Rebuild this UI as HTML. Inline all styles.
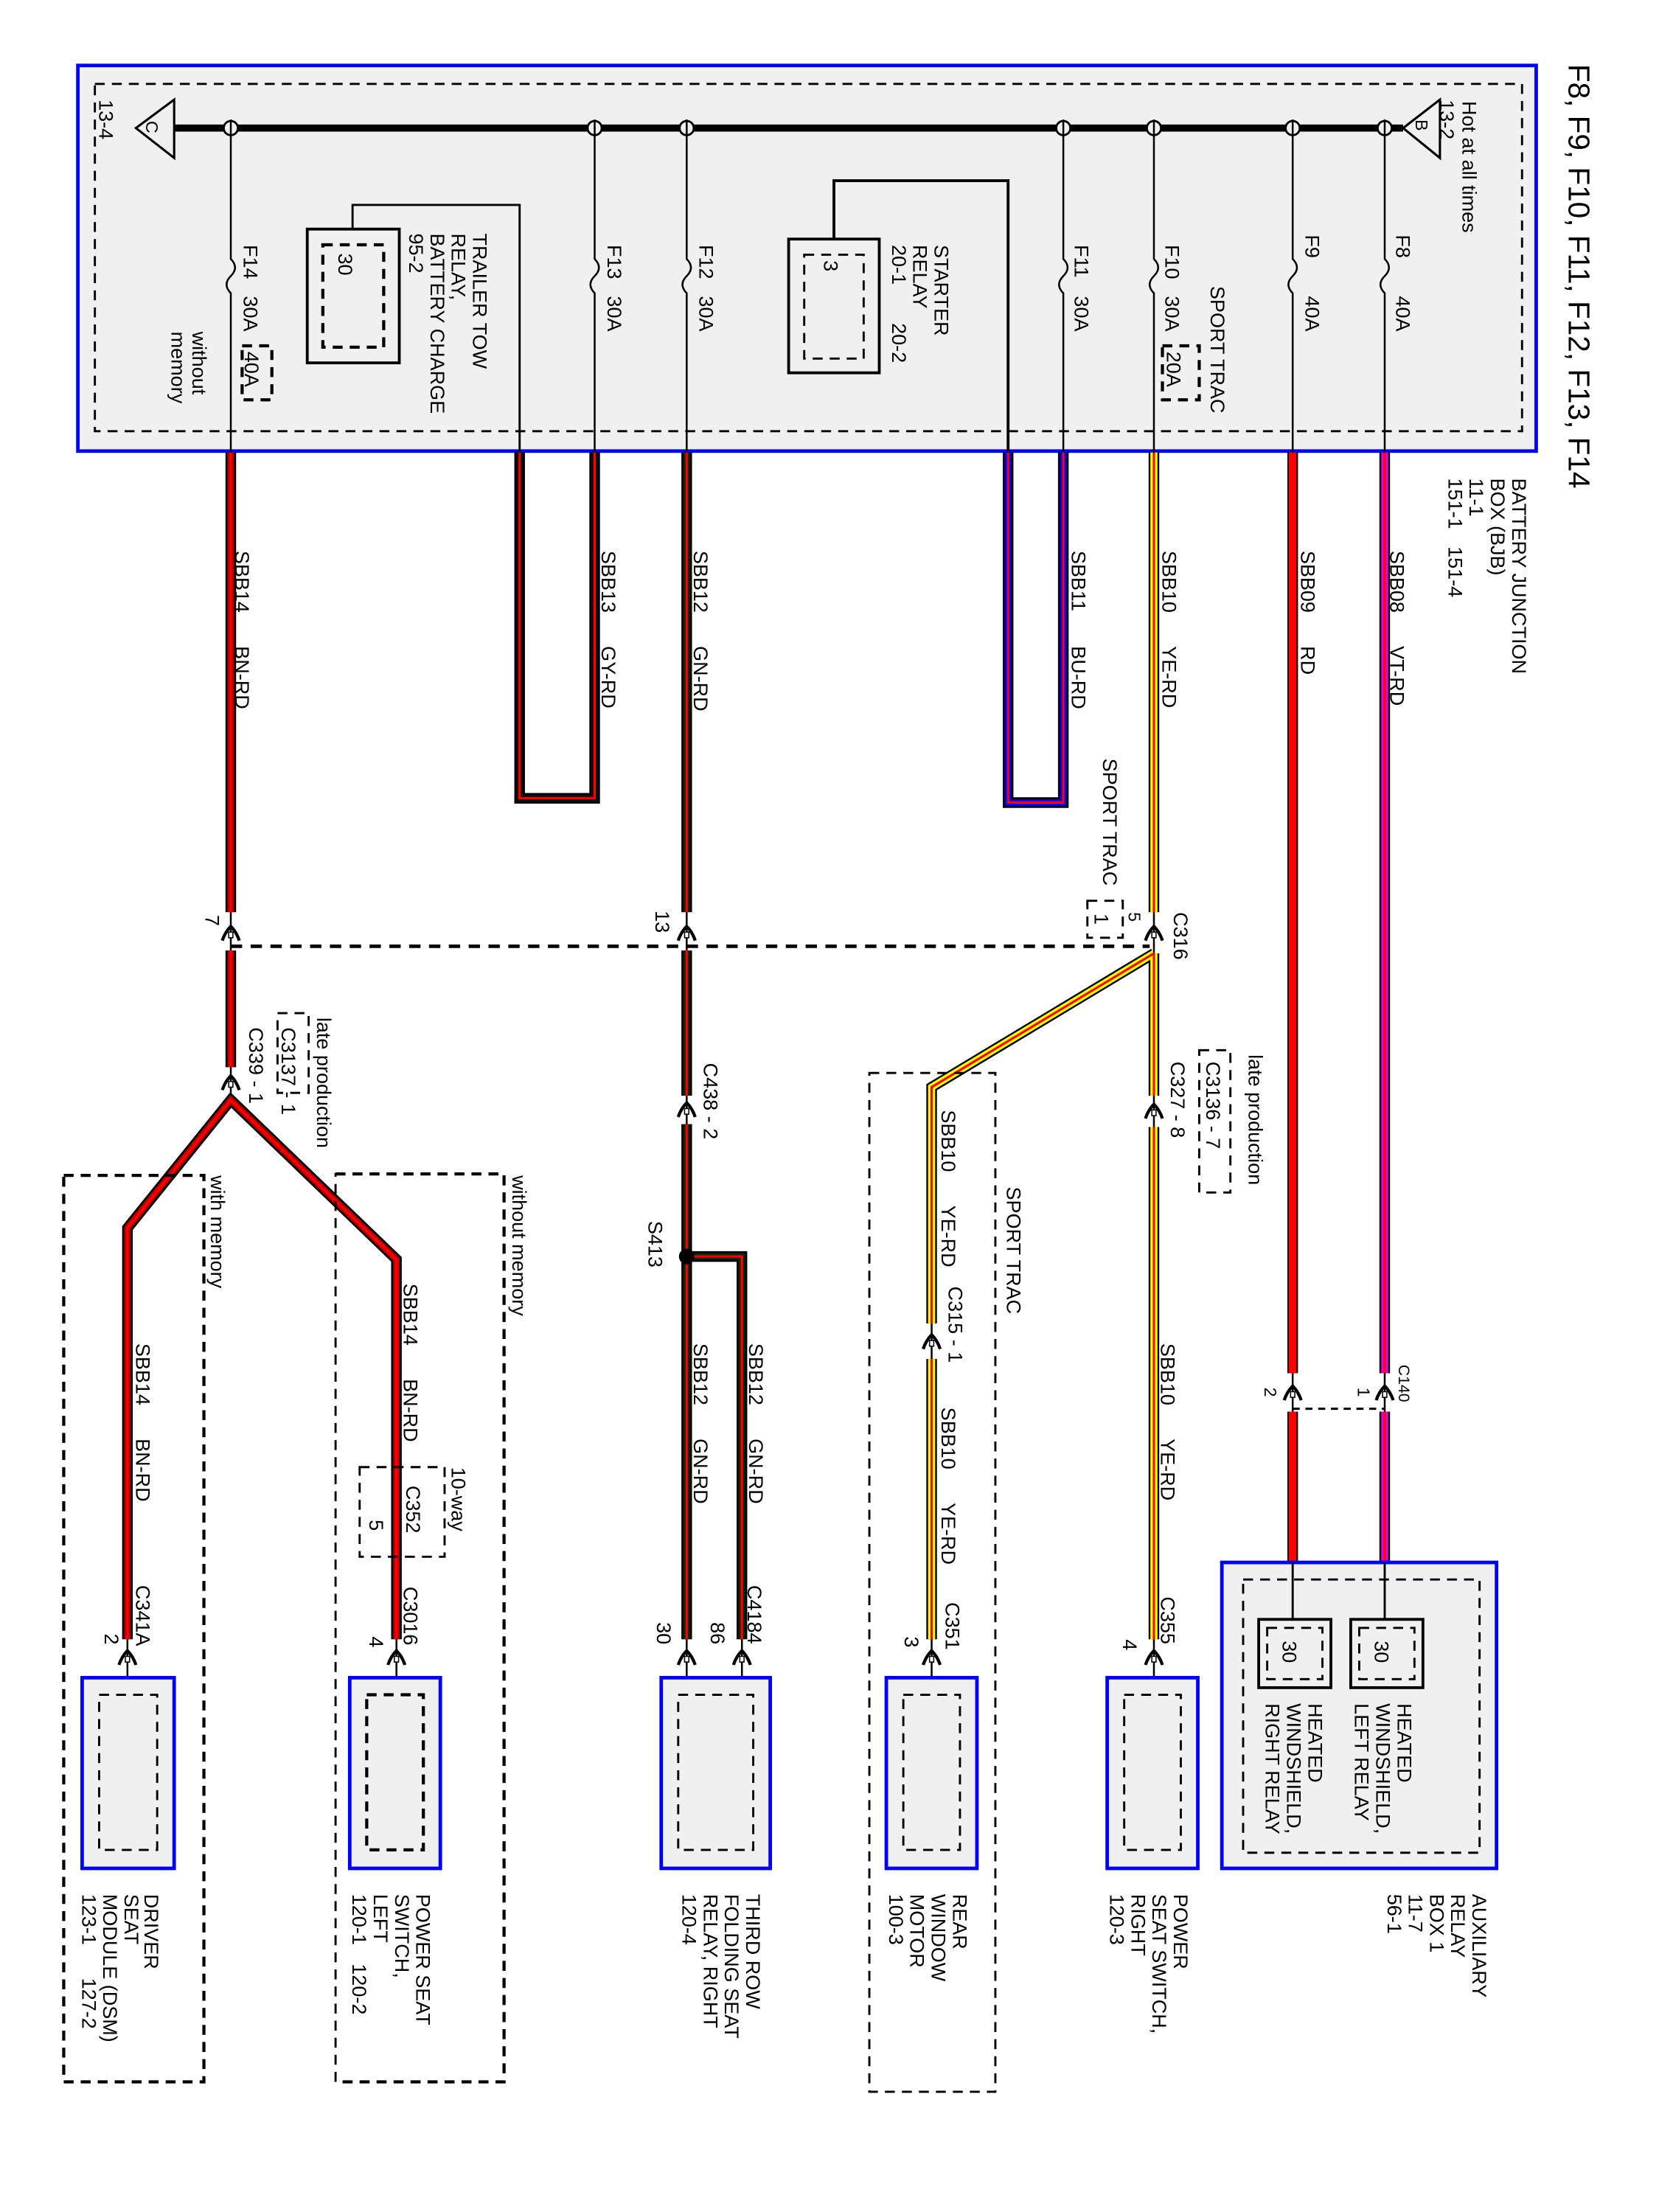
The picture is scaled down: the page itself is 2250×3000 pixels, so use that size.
<!DOCTYPE html>
<html><head><meta charset="utf-8"><style>
html,body{margin:0;padding:0;background:#fff}
svg{display:block}
text{font-family:"Liberation Sans",Arial,sans-serif;font-size:14px;fill:#000}
.o{fill:none;stroke:#000;stroke-width:7.5;stroke-linejoin:miter}
.tr{fill:none;stroke:#f00;stroke-width:1.6}
.th{fill:none;stroke:#000;stroke-width:1.3}
.ds{fill:none;stroke:#000;stroke-width:1.5;stroke-dasharray:7 5}
.dsb{fill:none;stroke:#000;stroke-width:2.2;stroke-dasharray:7 5}
.ch{fill:none;stroke:#000;stroke-width:2.2}
</style></head><body>
<svg xmlns="http://www.w3.org/2000/svg" xmlns:xlink="http://www.w3.org/1999/xlink" width="2250" height="3000" viewBox="0 0 1160 1546.7">
<defs>
<g id="chev"><path d="M-6,5 Q-4,-1 0,-5 Q4,-1 6,5" class="ch"/><rect x="-1.5" y="-1" width="3" height="4" fill="#fff" stroke="#000" stroke-width="0.8"/></g>
<path id="w14" d="M163 318V641M163 668V750M90 1152V863L163 773L280 885V1152"/>
<path id="w13" d="M367 318V561H420V318"/>
<path id="w12" d="M485 318V641M485 668V770M485 790V1152M485 883H524V1152"/>
<path id="w11" d="M712 318V564H751V318"/>
<path id="w10" d="M815 318V641M815 670V770M815 792V1152M815 670L658 764V930M658 955V1152"/>
<path id="w9" d="M913 318V965M913 992V1098"/>
<path id="w8" d="M978 318V965M978 992V1098"/>
</defs>
<rect width="1160" height="1547" fill="#fff"/>
<g transform="scale(0.99 0.995)">
<!-- BJB box -->
<rect x="55" y="46" width="1030" height="271" fill="#f0f0f0" stroke="#0000ff" stroke-width="2.5"/>
<rect x="67" y="59" width="1008" height="244" class="ds"/>
<line x1="123" y1="90" x2="991" y2="90" stroke="#000" stroke-width="5"/>
<path d="M123 70L96 90L123 111Z" fill="none" stroke="#000" stroke-width="1.6"/>
<path d="M991 90L1017 70L1017 111Z" fill="none" stroke="#000" stroke-width="1.6"/>
<text transform="translate(103 85) rotate(90)" style="font-size:12px">C</text>
<text transform="translate(1000 84) rotate(90)" style="font-size:12px">B</text>
<text transform="translate(70 70) rotate(90)">13-4</text>
<text transform="translate(1017 70) rotate(90)">13-2</text>
<text transform="translate(1033 71) rotate(90)">Hot at all times</text>
<!-- fuse drops -->
<g fill="none" stroke="#000" stroke-width="1.3">
<path d="M163 90V182q6 6 0 12q-6 6 0 12V318"/>
<path d="M420 90V182q6 6 0 12q-6 6 0 12V318"/>
<path d="M485 90V182q6 6 0 12q-6 6 0 12V318"/>
<path d="M751 90V182q6 6 0 12q-6 6 0 12V318"/>
<path d="M815 90V182q6 6 0 12q-6 6 0 12V318"/>
<path d="M913 90V182q6 6 0 12q-6 6 0 12V318"/>
<path d="M978 90V182q6 6 0 12q-6 6 0 12V318"/>
</g>
<g fill="#f0f0f0" stroke="#000" stroke-width="1.5">
<circle cx="163" cy="90" r="5"/><circle cx="420" cy="90" r="5"/><circle cx="485" cy="90" r="5"/><circle cx="751" cy="90" r="5"/><circle cx="815" cy="90" r="5"/><circle cx="913" cy="90" r="5"/><circle cx="978" cy="90" r="5"/>
</g>
<g stroke="#000" stroke-width="1.3"><line x1="163" y1="84" x2="163" y2="96"/><line x1="420" y1="84" x2="420" y2="96"/><line x1="485" y1="84" x2="485" y2="96"/><line x1="751" y1="84" x2="751" y2="96"/><line x1="815" y1="84" x2="815" y2="96"/><line x1="913" y1="84" x2="913" y2="96"/><line x1="978" y1="84" x2="978" y2="96"/></g>
<!-- starter relay -->
<path d="M589 168V127H712V318" fill="none" stroke="#000" stroke-width="2"/>
<rect x="557" y="168" width="64" height="94" fill="none" stroke="#000" stroke-width="2"/>
<rect x="568" y="179" width="42" height="73" class="ds"/>
<text transform="translate(582 183) rotate(90)">3</text>
<text transform="translate(660 172) rotate(90)">STARTER</text>
<text transform="translate(645 172) rotate(90)">RELAY</text>
<text transform="translate(630 172) rotate(90)">20-1</text>
<text transform="translate(630 227) rotate(90)">20-2</text>
<!-- trailer relay -->
<path d="M249 161V144H367V318" fill="none" stroke="#000" stroke-width="1.5"/>
<rect x="217" y="161" width="65" height="94" fill="none" stroke="#000" stroke-width="2"/>
<rect x="228" y="172" width="43" height="72" class="dsb"/>
<text transform="translate(239 178) rotate(90)">30</text>
<text transform="translate(334 164) rotate(90)">TRAILER TOW</text>
<text transform="translate(319 164) rotate(90)">RELAY,</text>
<text transform="translate(304 164) rotate(90)">BATTERY CHARGE</text>
<text transform="translate(289 164) rotate(90)">95-2</text>
<!-- fuse labels -->
<text transform="translate(172 172) rotate(90)">F14</text><text transform="translate(172 208) rotate(90)">30A</text>
<rect x="171" y="243" width="21" height="38" class="dsb"/><text transform="translate(173 247) rotate(90)">40A</text>
<text transform="translate(136 233) rotate(90)">without</text><text transform="translate(121 233) rotate(90)">memory</text>
<text transform="translate(429 172) rotate(90)">F13</text><text transform="translate(429 208) rotate(90)">30A</text>
<text transform="translate(494 172) rotate(90)">F12</text><text transform="translate(494 208) rotate(90)">30A</text>
<text transform="translate(759 172) rotate(90)">F11</text><text transform="translate(759 208) rotate(90)">30A</text>
<text transform="translate(823 172) rotate(90)">F10</text><text transform="translate(823 208) rotate(90)">30A</text>
<rect x="821" y="243" width="26" height="38" class="dsb"/><text transform="translate(824 247) rotate(90)">20A</text>
<text transform="translate(855 201) rotate(90)">SPORT TRAC</text>
<text transform="translate(922 165) rotate(90)">F9</text><text transform="translate(922 208) rotate(90)">40A</text>
<text transform="translate(986 165) rotate(90)">F8</text><text transform="translate(986 208) rotate(90)">40A</text>
<!-- title -->
<text transform="translate(1108 45) rotate(90)" style="font-size:21px">F8, F9, F10, F11, F12, F13, F14</text>
<text transform="translate(1068 336) rotate(90)">BATTERY JUNCTION</text>
<text transform="translate(1053 336) rotate(90)">BOX (BJB)</text>
<text transform="translate(1038 336) rotate(90)">11-1</text>
<text transform="translate(1023 336) rotate(90)">151-1</text><text transform="translate(1023 384) rotate(90)">151-4</text>
<!-- thin connector lines -->
<g class="th"><path d="M163 636V778M485 636V800M815 636V800M658 925V960M913 960V998M978 960V998M90 1150V1191M280 1150V1191M485 1150V1191M524 1150V1191M658 1150V1191M815 1150V1191M913 1098V1138M978 1098V1138"/></g>
<!-- wires -->
<use xlink:href="#w14" class="o"/><use xlink:href="#w14" fill="none" stroke="#c00000" stroke-width="4.5"/><use xlink:href="#w14" class="tr"/>
<use xlink:href="#w13" class="o"/><use xlink:href="#w13" fill="none" stroke="#111" stroke-width="4.5"/><use xlink:href="#w13" class="tr"/>
<use xlink:href="#w12" class="o"/><use xlink:href="#w12" fill="none" stroke="#102810" stroke-width="4.5"/><use xlink:href="#w12" class="tr"/>
<use xlink:href="#w11" class="o"/><use xlink:href="#w11" fill="none" stroke="#0000ff" stroke-width="4.5"/><use xlink:href="#w11" class="tr"/>
<use xlink:href="#w10" class="o"/><use xlink:href="#w10" fill="none" stroke="#ffff00" stroke-width="5"/><use xlink:href="#w10" class="tr"/>
<use xlink:href="#w9" class="o"/><use xlink:href="#w9" fill="none" stroke="#ff0000" stroke-width="5.5"/>
<use xlink:href="#w8" class="o"/><use xlink:href="#w8" fill="none" stroke="#e000e0" stroke-width="5"/><use xlink:href="#w8" class="tr"/>
<circle cx="485" cy="883" r="5.5" fill="#000"/>
<!-- dashed connector links -->
<line x1="163" y1="665" x2="812" y2="665" stroke="#000" stroke-width="2.5" stroke-dasharray="8 6"/>
<line x1="913" y1="990" x2="978" y2="990" stroke="#000" stroke-width="1.5" stroke-dasharray="5 4"/>
<!-- chevrons -->
<use xlink:href="#chev" x="163" y="656"/><use xlink:href="#chev" x="485" y="656"/><use xlink:href="#chev" x="815" y="656"/>
<use xlink:href="#chev" x="163" y="761"/><use xlink:href="#chev" x="485" y="780"/><use xlink:href="#chev" x="815" y="781"/>
<use xlink:href="#chev" x="658" y="943"/><use xlink:href="#chev" x="913" y="979"/><use xlink:href="#chev" x="978" y="979"/>
<use xlink:href="#chev" x="90" y="1165"/><use xlink:href="#chev" x="280" y="1165"/><use xlink:href="#chev" x="485" y="1165"/><use xlink:href="#chev" x="524" y="1165"/><use xlink:href="#chev" x="658" y="1165"/><use xlink:href="#chev" x="815" y="1165"/>
<!-- wire labels -->
<text transform="translate(166 387) rotate(90)">SBB14</text><text transform="translate(166 454) rotate(90)">BN-RD</text>
<text transform="translate(425 387) rotate(90)">SBB13</text><text transform="translate(425 454) rotate(90)">GY-RD</text>
<text transform="translate(490 387) rotate(90)">SBB12</text><text transform="translate(490 454) rotate(90)">GN-RD</text>
<text transform="translate(757 387) rotate(90)">SBB11</text><text transform="translate(757 454) rotate(90)">BU-RD</text>
<text transform="translate(821 387) rotate(90)">SBB10</text><text transform="translate(821 454) rotate(90)">YE-RD</text>
<text transform="translate(919 387) rotate(90)">SBB09</text><text transform="translate(919 454) rotate(90)">RD</text>
<text transform="translate(982 387) rotate(90)">SBB08</text><text transform="translate(982 454) rotate(90)">VT-RD</text>
<text transform="translate(779 533) rotate(90)">SPORT TRAC</text>
<rect x="768" y="633" width="25" height="26" class="ds"/>
<text transform="translate(773 642) rotate(90)">1</text>
<text transform="translate(797 641) rotate(90)" style="font-size:12px">5</text>
<text transform="translate(829 641) rotate(90)">C316</text>
<text transform="translate(463 640) rotate(90)">13</text>
<text transform="translate(145 643) rotate(90)">7</text>
<text transform="translate(224 715) rotate(90)">late production</text>
<rect x="196" y="712" width="22" height="56" class="ds"/>
<text transform="translate(199 722) rotate(90)">C3137 - 1</text>
<text transform="translate(176 722) rotate(90)">C339 - 1</text>
<text transform="translate(497 747) rotate(90)">C438 - 2</text>
<text transform="translate(882 741) rotate(90)">late production</text>
<rect x="847" y="738" width="22" height="100" class="ds"/>
<text transform="translate(852 746) rotate(90)">C3136 - 7</text>
<text transform="translate(827 746) rotate(90)">C327 - 8</text>
<!-- sport trac group -->
<rect x="614" y="754" width="89" height="716" class="ds"/>
<text transform="translate(711 834) rotate(90)">SPORT TRAC</text>
<text transform="translate(665 780) rotate(90)">SBB10</text><text transform="translate(665 847) rotate(90)">YE-RD</text>
<text transform="translate(670 904) rotate(90)">C315 - 1</text>
<text transform="translate(665 989) rotate(90)">SBB10</text><text transform="translate(665 1056) rotate(90)">YE-RD</text>
<text transform="translate(668 1126) rotate(90)">C351</text>
<text transform="translate(639 1150) rotate(90)">3</text>
<!-- right seat switch labels -->
<text transform="translate(820 944) rotate(90)">SBB10</text><text transform="translate(820 1011) rotate(90)">YE-RD</text>
<text transform="translate(820 1122) rotate(90)">C355</text>
<text transform="translate(793 1152) rotate(90)">4</text>
<text transform="translate(988 959) rotate(90)" style="font-size:11px">C140</text>
<text transform="translate(959 975) rotate(90)" style="font-size:12px">1</text>
<text transform="translate(893 975) rotate(90)" style="font-size:12px">2</text>
<!-- GN-RD -->
<text transform="translate(458 858) rotate(90)">S413</text>
<text transform="translate(490 944) rotate(90)">SBB12</text><text transform="translate(490 1011) rotate(90)">GN-RD</text>
<text transform="translate(529 944) rotate(90)">SBB12</text><text transform="translate(529 1011) rotate(90)">GN-RD</text>
<text transform="translate(528 1114) rotate(90)">C4184</text>
<text transform="translate(464 1140) rotate(90)">30</text>
<text transform="translate(502 1140) rotate(90)">86</text>
<!-- memory groups -->
<rect x="237" y="825" width="119" height="638" class="ds"/>
<path d="M237 825H356V1463H237" class="dsb"/>
<rect x="45" y="826" width="99" height="637" class="dsb"/>
<text transform="translate(362 826) rotate(90)">without memory</text>
<text transform="translate(149 826) rotate(90)">with memory</text>
<text transform="translate(285 902) rotate(90)">SBB14</text><text transform="translate(285 969) rotate(90)">BN-RD</text>
<rect x="254" y="1031" width="60" height="63" class="ds"/>
<text transform="translate(319 1031) rotate(90)">10-way</text>
<text transform="translate(287 1044) rotate(90)">C352</text>
<text transform="translate(261 1068) rotate(90)">5</text>
<text transform="translate(285 1115) rotate(90)">C3016</text>
<text transform="translate(261 1150) rotate(90)">4</text>
<text transform="translate(96 944) rotate(90)">SBB14</text><text transform="translate(96 1011) rotate(90)">BN-RD</text>
<text transform="translate(96 1114) rotate(90)">C341A</text>
<text transform="translate(74 1148) rotate(90)">2</text>
<!-- component boxes -->
<g fill="#f0f0f0" stroke="#0000ff" stroke-width="2.5">
<rect x="58" y="1179" width="65" height="134"/><rect x="247" y="1179" width="64" height="134"/>
<rect x="467" y="1179" width="77" height="134"/><rect x="626" y="1179" width="64" height="134"/>
<rect x="782" y="1179" width="64" height="134"/><rect x="863" y="1098" width="194" height="215"/>
</g>
<rect x="70" y="1191" width="41" height="109" class="ds"/><rect x="259" y="1191" width="40" height="109" class="dsb"/>
<rect x="479" y="1191" width="53" height="109" class="ds"/><rect x="638" y="1191" width="40" height="109" class="ds"/>
<rect x="794" y="1191" width="40" height="109" class="ds"/><rect x="878" y="1110" width="167" height="192" class="ds"/>
<path d="M913 1098V1138M978 1098V1138" stroke="#000" stroke-width="1.5"/>
<rect x="889" y="1138" width="51" height="48" fill="none" stroke="#000" stroke-width="2"/>
<rect x="954" y="1138" width="51" height="48" fill="none" stroke="#000" stroke-width="2"/>
<rect x="895" y="1144" width="39" height="36" class="ds"/><rect x="960" y="1144" width="39" height="36" class="ds"/>
<text transform="translate(906 1153) rotate(90)">30</text><text transform="translate(971 1153) rotate(90)">30</text>
<text transform="translate(987 1197) rotate(90)">HEATED</text><text transform="translate(972 1197) rotate(90)">WINDSHIELD,</text><text transform="translate(957 1197) rotate(90)">LEFT RELAY</text>
<text transform="translate(924 1197) rotate(90)">HEATED</text><text transform="translate(909 1197) rotate(90)">WINDSHIELD,</text><text transform="translate(894 1197) rotate(90)">RIGHT RELAY</text>
<!-- bottom labels -->
<text transform="translate(1040 1331) rotate(90)">AUXILIARY</text><text transform="translate(1025 1331) rotate(90)">RELAY</text><text transform="translate(1010 1331) rotate(90)">BOX 1</text><text transform="translate(995 1331) rotate(90)">11-7</text><text transform="translate(980 1331) rotate(90)">56-1</text>
<text transform="translate(829 1331) rotate(90)">POWER</text><text transform="translate(814 1331) rotate(90)">SEAT SWITCH,</text><text transform="translate(799 1331) rotate(90)">RIGHT</text><text transform="translate(784 1331) rotate(90)">120-3</text>
<text transform="translate(673 1331) rotate(90)">REAR</text><text transform="translate(658 1331) rotate(90)">WINDOW</text><text transform="translate(643 1331) rotate(90)">MOTOR</text><text transform="translate(628 1331) rotate(90)">100-3</text>
<text transform="translate(527 1331) rotate(90)">THIRD ROW</text><text transform="translate(512 1331) rotate(90)">FOLDING SEAT</text><text transform="translate(497 1331) rotate(90)">RELAY, RIGHT</text><text transform="translate(482 1331) rotate(90)">120-4</text>
<text transform="translate(294 1331) rotate(90)">POWER SEAT</text><text transform="translate(279 1331) rotate(90)">SWITCH,</text><text transform="translate(264 1331) rotate(90)">LEFT</text><text transform="translate(249 1331) rotate(90)">120-1</text><text transform="translate(249 1380) rotate(90)">120-2</text>
<text transform="translate(102 1331) rotate(90)">DRIVER</text><text transform="translate(88 1331) rotate(90)">SEAT</text><text transform="translate(73 1331) rotate(90)">MODULE (DSM)</text><text transform="translate(58 1331) rotate(90)">123-1</text><text transform="translate(58 1390) rotate(90)">127-2</text>
</g>
</svg>
</body></html>
